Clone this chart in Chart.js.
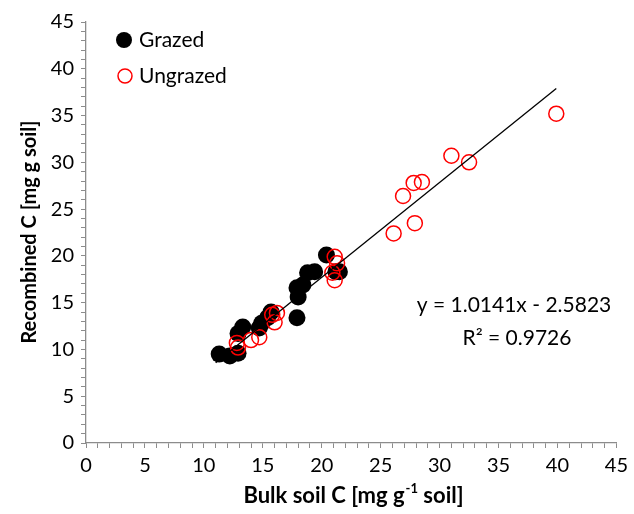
<!DOCTYPE html>
<html>
<head>
<meta charset="utf-8">
<script src="https://cdn.jsdelivr.net/npm/chart.js@4.4.1/dist/chart.umd.min.js"></script>
<style>
html,body{margin:0;padding:0;background:#fff;}
#wrap{width:634px;height:514px;}
</style>
</head>
<body>
<div id="wrap"><canvas id="c" width="634" height="514"></canvas></div>
<script>
// ---- data ----
const grazedX = [11.3, 12.2, 12.9, 12.9, 13.3, 14.7, 14.9, 15.4, 15.7, 17.9, 17.9, 18.0, 18.4, 18.8, 19.4, 20.4, 21.2, 21.5];
const grazedY = [9.5, 9.3, 9.6, 11.7, 12.4, 12.3, 12.8, 13.4, 14.0, 13.4, 16.6, 15.6, 16.9, 18.2, 18.3, 20.1, 18.3, 18.3];
const ungrazedX = [12.8, 12.9, 14.0, 14.7, 15.8, 16.2, 16.0, 21.1, 21.3, 20.9, 21.1, 39.9, 31.0, 32.5, 27.8, 28.5, 26.9, 27.9, 26.1];
const ungrazedY = [10.7, 10.2, 11.0, 11.3, 13.7, 13.9, 12.9, 19.9, 19.2, 18.2, 17.4, 35.2, 30.7, 30.0, 27.8, 27.9, 26.4, 23.5, 22.4];
const trendX = [11.0, 39.9];
const trendY = [8.57, 37.88];
const xTicks = [0, 5, 10, 15, 20, 25, 30, 35, 40, 45];
const yTicks = [0, 5, 10, 15, 20, 25, 30, 35, 40, 45];
const seriesNames = ['Grazed', 'Ungrazed'];
const equationText = 'y = 1.0141x - 2.5823';
const r2Text = 'R² = 0.9726';

const FONT = 'Lato, "Open Sans", sans-serif';
const AXIS = '#8c8c8c';

const toPts = (xs, ys) => xs.map((x, i) => ({x: x, y: ys[i]}));

const overlay = {
  id: 'overlay',
  afterDraw(chart) {
    const ctx = chart.ctx;
    ctx.save();
    ctx.fillStyle = '#000';
    // y title
    ctx.save();
    ctx.translate(30, 232);
    ctx.rotate(-Math.PI / 2);
    ctx.font = 'bold 20px ' + FONT;
    ctx.textAlign = 'center';
    ctx.textBaseline = 'middle';
    ctx.fillText('Recombined C [mg g soil]', 0, 0);
    ctx.restore();
    // x title with superscript
    ctx.textBaseline = 'middle';
    const a = 'Bulk soil C [mg g', sup = '-1', b = ' soil]';
    ctx.font = 'bold 22px ' + FONT;
    const wa = ctx.measureText(a).width;
    const wb = ctx.measureText(b).width;
    ctx.font = 'bold 13px ' + FONT;
    const ws = ctx.measureText(sup).width;
    const total = wa + ws + wb;
    let x0 = 353 - total / 2;
    const yT = 496;
    ctx.textAlign = 'left';
    ctx.font = 'bold 22px ' + FONT;
    ctx.fillText(a, x0, yT);
    ctx.font = 'bold 13px ' + FONT;
    ctx.fillText(sup, x0 + wa + 1, yT - 7);
    ctx.font = 'bold 22px ' + FONT;
    ctx.fillText(b, x0 + wa + ws + 1, yT);
    // legend
    ctx.font = '21px ' + FONT;
    ctx.textAlign = 'left';
    ctx.beginPath();
    ctx.arc(124, 40, 8, 0, Math.PI * 2);
    ctx.fillStyle = '#000';
    ctx.fill();
    ctx.fillText(seriesNames[0], 139, 40);
    ctx.beginPath();
    ctx.arc(125, 76, 7, 0, Math.PI * 2);
    ctx.strokeStyle = '#ff0000';
    ctx.lineWidth = 1.5;
    ctx.stroke();
    ctx.fillStyle = '#000';
    ctx.fillText(seriesNames[1], 139, 76);
    // equation
    ctx.font = '21px ' + FONT;
    ctx.textAlign = 'center';
    ctx.fillText(equationText, 514, 305);
    ctx.fillText(r2Text, 517, 338);
    ctx.restore();
  }
};

new Chart(document.getElementById('c'), {
  type: 'scatter',
  data: {
    datasets: [
      {
        type: 'line',
        label: 'trend',
        data: toPts(trendX, trendY),
        borderColor: '#000',
        borderWidth: 1.3,
        pointRadius: 0,
        fill: false,
        order: 0
      },
      {
        label: seriesNames[1],
        data: toPts(ungrazedX, ungrazedY),
        pointRadius: 7.5,
        pointBackgroundColor: 'rgba(0,0,0,0)',
        pointBorderColor: '#ff0000',
        pointBorderWidth: 1.5,
        order: 1
      },
      {
        label: seriesNames[0],
        data: toPts(grazedX, grazedY),
        pointRadius: 8.5,
        pointBackgroundColor: '#000',
        pointBorderColor: '#000',
        pointBorderWidth: 0,
        order: 2
      }
    ]
  },
  options: {
    responsive: false,
    animation: false,
    devicePixelRatio: 1,
    layout: {padding: {left: 0, right: 16, top: 22, bottom: 0}},
    plugins: {legend: {display: false}, tooltip: {enabled: false}},
    scales: {
      x: {
        type: 'linear', min: 0, max: 45,
        afterFit: s => { s.height = 71; },
        afterBuildTicks: s => { s.ticks = []; for (let v = 0; v <= 45; v++) s.ticks.push({value: v}); },
        ticks: {
          autoSkip: false, maxRotation: 0,
          callback: v => xTicks.includes(v) ? String(v) : '',
          font: {size: 20, family: FONT}, color: '#000', padding: 6
        },
        grid: {display: true, drawOnChartArea: false, drawTicks: true, tickLength: 5, color: AXIS, lineWidth: 1},
        border: {display: true, color: AXIS, width: 1.3}
      },
      y: {
        type: 'linear', min: 0, max: 45,
        afterFit: s => { s.width = 86; },
        afterBuildTicks: s => { s.ticks = []; for (let v = 0; v <= 45; v++) s.ticks.push({value: v}); },
        ticks: {
          autoSkip: false,
          callback: v => yTicks.includes(v) ? String(v) : '',
          font: {size: 20, family: FONT}, color: '#000', padding: 7
        },
        grid: {display: true, drawOnChartArea: false, drawTicks: true, tickLength: 5, color: AXIS, lineWidth: 1},
        border: {display: true, color: AXIS, width: 1.3}
      }
    }
  },
  plugins: [overlay]
});
</script>
</body>
</html>
